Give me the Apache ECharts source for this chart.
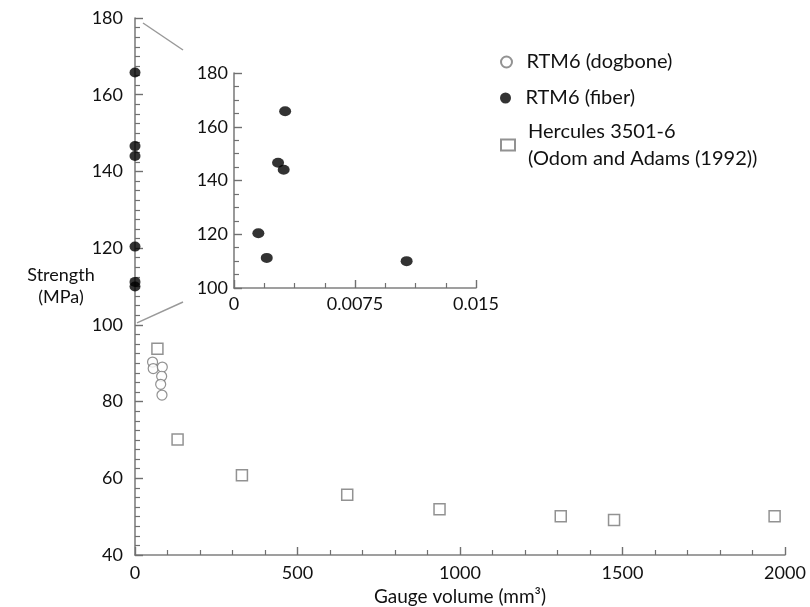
<!DOCTYPE html>
<html>
<head>
<meta charset="utf-8">
<script src="https://cdn.jsdelivr.net/npm/echarts@6/dist/echarts.min.js"></script>
<style>
  html, body { margin: 0; padding: 0; background: #fff; }
  #main { width: 810px; height: 607px; }
</style>
</head>
<body>
<div id="main"></div>
<script>
// values
var dogboneX = [54, 56, 84, 82, 79, 83];
var dogboneY = [90.3, 88.6, 89.0, 86.6, 84.5, 81.7];
var herculesX = [69, 131, 329, 653, 937, 1310, 1474, 1968];
var herculesY = [93.8, 70.1, 60.8, 55.7, 51.9, 50.1, 49.1, 50.1];
var fiberX = [0.00317, 0.00273, 0.00308, 0.00151, 0.00203, 0.0107];
var fiberY = [165.8, 146.6, 144.0, 120.4, 111.2, 110.0];
var seriesNames = ['RTM6 (dogbone)', 'RTM6 (fiber)', 'Hercules 3501-6\n(Odom and Adams (1992))'];

function pairs(xs, ys) {
  var out = [];
  for (var i = 0; i < xs.length; i++) out.push([xs[i], ys[i]]);
  return out;
}

var font = 'Lato';
var axisGrey = '#808080';

function axisCommon(fs) {
  return {
    axisLine: { show: true, onZero: false, lineStyle: { color: axisGrey, width: 1.6 } },
    axisTick: { show: true, inside: true, length: 8, lineStyle: { color: '#707070', width: 1.4 } },
    minorTick: { show: true, length: 5, lineStyle: { color: '#707070', width: 1.2 } },
    splitLine: { show: false },
    minorSplitLine: { show: false },
    axisLabel: { color: '#111', fontSize: fs, fontFamily: font, formatter: function (v) { return String(v); } }
  };
}

var myChart = echarts.init(document.getElementById('main'));

var xMain = axisCommon(18);
xMain.type = 'value'; xMain.gridIndex = 0; xMain.min = 0; xMain.max = 2000; xMain.interval = 500;
xMain.minorTick.splitNumber = 5;
xMain.axisLabel.margin = 9;
xMain.name = 'Gauge volume (mm³)';
xMain.nameLocation = 'middle';
xMain.nameGap = 40;
xMain.nameTextStyle = { color: '#111', fontSize: 19, fontFamily: font, verticalAlign: 'middle' };

var yMain = axisCommon(18);
yMain.type = 'value'; yMain.gridIndex = 0; yMain.min = 40; yMain.max = 180; yMain.interval = 20;
yMain.minorTick.splitNumber = 8;
yMain.axisLabel.margin = 12;
yMain.name = 'Strength\n(MPa)';
yMain.nameLocation = 'middle';
yMain.nameRotate = 0;
yMain.nameGap = 74;
yMain.nameMoveOverlap = false;
yMain.nameTextStyle = { color: '#111', fontSize: 18, fontFamily: font, align: 'center', verticalAlign: 'middle', lineHeight: 22, padding: [0, 0, 6, 0] };

var xInset = axisCommon(18);
xInset.type = 'value'; xInset.gridIndex = 1; xInset.min = 0; xInset.max = 0.015; xInset.interval = 0.0075;
xInset.minorTick.splitNumber = 4;
xInset.axisLabel.margin = 7;

var yInset = axisCommon(18);
yInset.type = 'value'; yInset.gridIndex = 1; yInset.min = 100; yInset.max = 180; yInset.interval = 20;
yInset.minorTick.splitNumber = 4;
yInset.axisLabel.margin = 6;

function legendAt(name, top) {
  return {
    data: [name],
    orient: 'vertical',
    left: 500,
    top: top,
    padding: 0,
    itemWidth: 14,
    itemHeight: 11,
    selectedMode: false,
    textStyle: { color: '#111', fontSize: 20, fontFamily: font, lineHeight: 27, padding: [0, 0, 0, 8] }
  };
}

var openStyle = { color: '#fff', borderColor: '#777', borderWidth: 1.2 };
var squareStyle = { color: '#fff', borderColor: '#777', borderWidth: 1.5 };
var dotStyle = { color: '#000' };

var option = {
  backgroundColor: '#fff',
  animation: false,
  legend: [
    legendAt(seriesNames[0], 48.5),
    legendAt(seriesNames[1], 84.5),
    legendAt(seriesNames[2], 118)
  ],
  grid: [
    { left: 135, top: 18, right: 25, bottom: 52, outerBoundsMode: 'none' },
    { left: 234, top: 73, width: 242, height: 215, outerBoundsMode: 'none' }
  ],
  xAxis: [xMain, xInset],
  yAxis: [yMain, yInset],
  series: [
    {
      name: seriesNames[0], type: 'scatter', xAxisIndex: 0, yAxisIndex: 0,
      symbol: 'circle', symbolSize: 10, itemStyle: openStyle,
      data: pairs(dogboneX, dogboneY), z: 3
    },
    {
      name: seriesNames[1], type: 'scatter', xAxisIndex: 0, yAxisIndex: 0,
      symbol: 'circle', symbolSize: [11, 10], itemStyle: dotStyle,
      data: pairs(fiberX, fiberY), z: 4
    },
    {
      name: seriesNames[2], type: 'scatter', xAxisIndex: 0, yAxisIndex: 0,
      symbol: 'rect', symbolSize: 11, itemStyle: squareStyle,
      data: pairs(herculesX, herculesY), z: 2
    },
    {
      name: seriesNames[1], type: 'scatter', xAxisIndex: 1, yAxisIndex: 1,
      symbol: 'circle', symbolSize: [12, 10], itemStyle: dotStyle,
      data: pairs(fiberX, fiberY), z: 4
    }
  ]
};

myChart.setOption(option);

// zoom guide lines from main axis (100-180) to the inset
var a1 = myChart.convertToPixel({ gridIndex: 0 }, [0, 180]);
var a2 = myChart.convertToPixel({ gridIndex: 0 }, [0, 100]);
var b1 = myChart.convertToPixel({ gridIndex: 1 }, [0, 180]);
var b2 = myChart.convertToPixel({ gridIndex: 1 }, [0, 100]);
myChart.setOption({
  graphic: [
    { type: 'line', shape: { x1: a1[0] + 8, y1: a1[1] + 5, x2: b1[0] - 51, y2: b1[1] - 23 },
      style: { stroke: '#999', lineWidth: 1.5 }, silent: true },
    { type: 'line', shape: { x1: a2[0] + 2, y1: a2[1] - 2, x2: b2[0] - 51, y2: b2[1] + 14 },
      style: { stroke: '#999', lineWidth: 1.5 }, silent: true }
  ]
});
</script>
</body>
</html>
